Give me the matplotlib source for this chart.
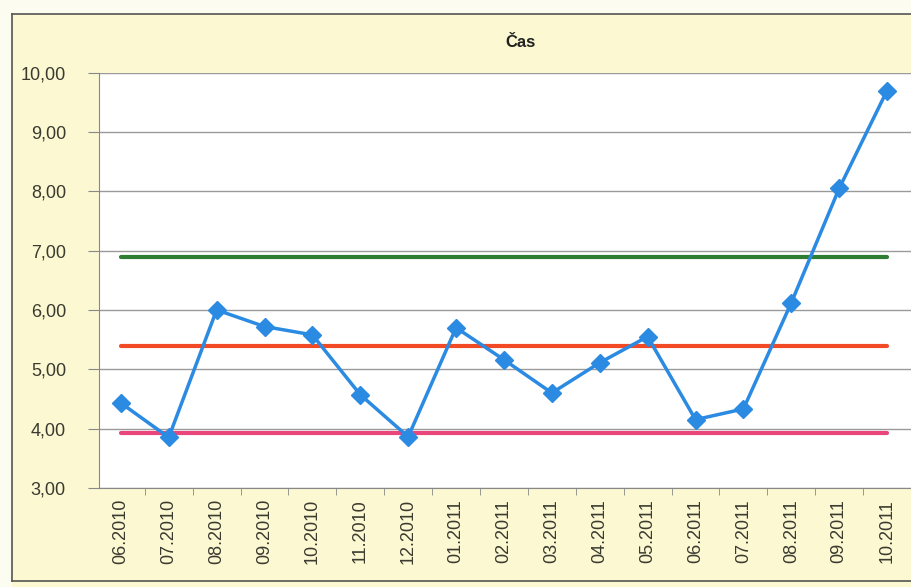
import matplotlib.pyplot as plt
from matplotlib.lines import Line2D
from matplotlib.ticker import FixedLocator, FuncFormatter

months = ['06.2010', '07.2010', '08.2010', '09.2010', '10.2010', '11.2010',
          '12.2010', '01.2011', '02.2011', '03.2011', '04.2011', '05.2011',
          '06.2011', '07.2011', '08.2011', '09.2011', '10.2011']
cas = [4.43, 3.85, 6.00, 5.72, 5.58, 4.57, 3.86, 5.70, 5.16, 4.60,
       5.11, 5.55, 4.15, 4.33, 6.12, 8.05, 9.70]
ucl = [6.90] * len(months)
mean = [5.40] * len(months)
lcl = [3.92] * len(months)

plt.rcParams['font.family'] = ['Liberation Sans', 'DejaVu Sans']

bg = '#fbf8d2'
fig = plt.figure(figsize=(9.11, 5.87), dpi=100, facecolor=bg)

# light margin above and left of the chart frame
fig.patches.append(plt.Rectangle((0, 0.976), 1, 0.03, transform=fig.transFigure,
                                 facecolor='#fdfcf0', edgecolor='none', zorder=0))
fig.patches.append(plt.Rectangle((0, 0), 0.013, 1, transform=fig.transFigure,
                                 facecolor='#fdfcf0', edgecolor='none', zorder=0))
frame = [Line2D([0.013, 1.0], [0.976, 0.976]), Line2D([0.013, 0.013], [0.976, 0.01]),
         Line2D([0.013, 1.0], [0.01, 0.01])]
for ln in frame:
    ln.set_transform(fig.transFigure)
    ln.set_color('#555555')
    ln.set_linewidth(1.2)
    fig.lines.append(ln)

ax = fig.add_axes([0.109, 0.169, 0.891, 0.707])
ax.set_facecolor('white')

x = list(range(len(months)))
ax.plot(x, ucl, color='#2f7d32', linewidth=3, solid_capstyle='round', zorder=2)
ax.plot(x, mean, color='#f24a24', linewidth=3, solid_capstyle='round', zorder=2)
ax.plot(x, lcl, color='#e9467c', linewidth=3, solid_capstyle='round', zorder=2)
ax.plot(x, cas, color='#2b8ae2', linewidth=2.5, marker='D', markersize=9,
        markeredgecolor='#2b8ae2', zorder=3)

ax.set_ylim(3, 10)
ax.set_xlim(-0.45, 16.5)
ax.set_yticks([3, 4, 5, 6, 7, 8, 9, 10])
ax.yaxis.set_major_formatter(FuncFormatter(lambda v, p: f'{v:.2f}'.replace('.', ',')))
ax.yaxis.grid(True, color='#9a9a9a', linewidth=1)
ax.set_axisbelow(True)

ax.set_xticks(x)
ax.set_xticklabels(months, rotation=90)
ax.xaxis.set_minor_locator(FixedLocator([i + 0.5 for i in range(-1, 17)]))
ax.tick_params(axis='x', which='major', length=0, pad=8, labelsize=13, colors='#3a3a30')
ax.tick_params(axis='x', which='minor', length=5, color='#888888')
ax.tick_params(axis='y', length=8, pad=16, color='#888888', labelsize=13,
               labelcolor='#3a3a30')

for side in ['top', 'right']:
    ax.spines[side].set_visible(False)
ax.spines['left'].set_color('#888888')
ax.spines['bottom'].set_color('#888888')

fig.text(0.571, 0.928, 'Čas', ha='center', va='center', fontsize=12,
         fontweight='bold', color='#222222')

fig.savefig('out.png', dpi=100, facecolor=bg)
